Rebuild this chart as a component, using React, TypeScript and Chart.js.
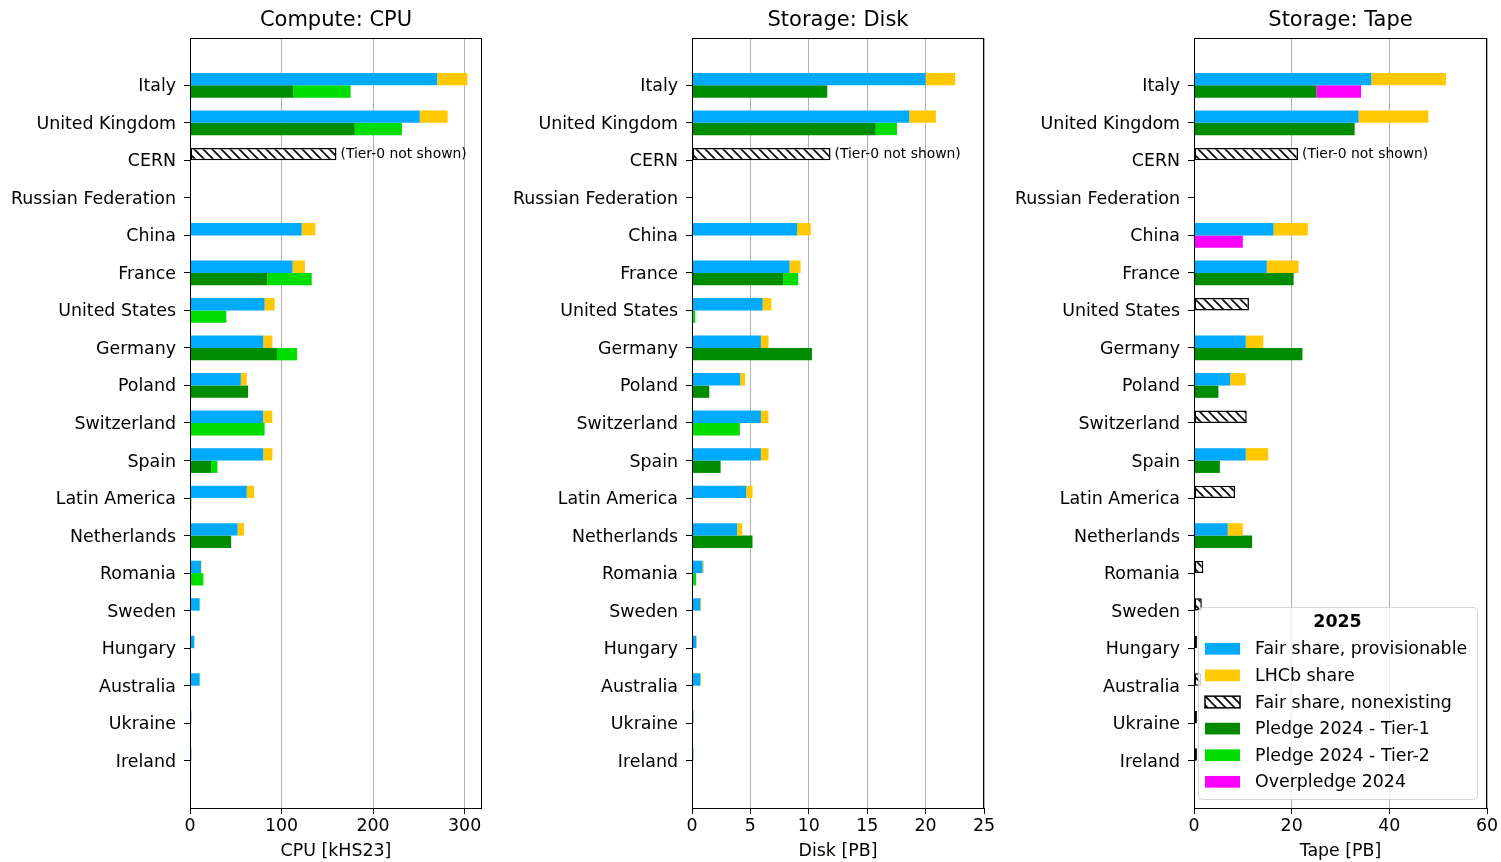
import React, { useEffect, useRef } from 'react';
import { Chart, registerables } from 'chart.js';

Chart.register(...registerables);

// ---------- data ----------
const countries = [
  'Italy', 'United Kingdom', 'CERN', 'Russian Federation', 'China', 'France',
  'United States', 'Germany', 'Poland', 'Switzerland', 'Spain', 'Latin America',
  'Netherlands', 'Romania', 'Sweden', 'Hungary', 'Australia', 'Ukraine', 'Ireland',
];

type V = number | null;

// Compute: CPU [kHS23]
const cpuFair: V[] = [270, 251, null, null, 122, 112, 81.5, 80, 55.5, 80, 80, 62, 52, 12, 10.5, 4.7, 10.5, 1.5, 1.5];
const cpuLhcb: V[] = [33, 30.5, null, null, 15, 13.5, 11, 10, 6.5, 10, 10, 8, 7, 0.6, 0.4, 0.2, 0.4, 0.1, 0.1];
const cpuNonexist: V[] = [null, null, 160, null, null, null, null, null, null, null, null, null, null, null, null, null, null, null, null];
const cpuTier1: V[] = [113, 180, null, null, null, 84.5, null, 95, 63.5, null, 23, null, 45, null, null, null, null, null, null];
const cpuTier2: V[] = [62.5, 51.5, null, null, null, 48.5, 39.7, 22, null, 81.5, 7, 1.5, null, 14.6, null, null, null, null, null];
const cpuOver: V[] = [null, null, null, null, null, null, null, null, null, null, null, null, null, null, null, null, null, null, null];
const cpuTicks = [0, 100, 200, 300];

// Storage: Disk [PB]
const diskFair: V[] = [20.0, 18.6, null, null, 9.0, 8.35, 6.05, 5.9, 4.13, 5.9, 5.9, 4.64, 3.87, 0.91, 0.71, 0.37, 0.71, 0.12, 0.12];
const diskLhcb: V[] = [2.53, 2.28, null, null, 1.17, 0.95, 0.74, 0.65, 0.42, 0.65, 0.65, 0.54, 0.43, 0.09, 0.08, 0.04, 0.07, 0.01, 0.01];
const diskNonexist: V[] = [null, null, 11.86, null, null, null, null, null, null, null, null, null, null, null, null, null, null, null, null];
const diskTier1: V[] = [11.58, 15.73, null, null, null, 7.8, null, 10.27, 1.48, null, 2.45, null, 5.18, null, null, null, null, null, null];
const diskTier2: V[] = [null, 1.82, null, null, null, 1.3, 0.28, null, null, 4.1, null, null, null, 0.35, null, null, null, null, null];
const diskOver: V[] = [null, null, null, null, null, null, null, null, null, null, null, null, null, null, null, null, null, null, null];
const diskTicks = [0, 5, 10, 15, 20, 25];

// Storage: Tape [PB]
const tapeFair: V[] = [36.3, 33.7, null, null, 16.3, 14.9, null, 10.6, 7.4, null, 10.6, null, 6.9, null, null, null, null, null, null];
const tapeLhcb: V[] = [15.3, 14.3, null, null, 7.0, 6.5, null, 3.6, 3.2, null, 4.6, null, 3.1, null, null, null, null, null, null];
const tapeNonexist: V[] = [null, null, 21.3, null, null, null, 11.25, null, null, 10.8, null, 8.4, null, 1.9, 1.6, 0.6, 1.5, 0.6, 0.6];
const tapeTier1: V[] = [25.1, 32.9, null, null, null, 20.4, null, 22.2, 5.0, null, 5.3, null, 11.9, null, null, null, null, null, null];
const tapeTier2: V[] = [null, null, null, null, null, null, null, null, null, null, null, null, null, null, null, null, null, null, null];
const tapeOver: V[] = [9.1, null, null, null, 10.0, null, null, null, null, null, null, null, null, null, null, null, null, null, null];
const tapeTicks = [0, 20, 40, 60];

const seriesLabels = [
  'Fair share, provisionable', 'LHCb share', 'Fair share, nonexisting',
  'Pledge 2024 - Tier-1', 'Pledge 2024 - Tier-2', 'Overpledge 2024',
];
const legendTitle = '2025';
const tier0Note = '(Tier-0 not shown)';

// ---------- styles ----------
const FONT = '"DejaVu Sans", sans-serif';
const FS = 17.4;
const C_FAIR = '#00aaff';
const C_LHCB = '#ffc800';
const C_T1 = '#008c00';
const C_T2 = '#00dd00';
const C_OVER = '#ff00ff';

interface Panel {
  title: string; axis: string; max: number; ticks: number[];
  fair: V[]; lhcb: V[]; nonex: V[]; t1: V[]; t2: V[]; over: V[];
  left: number; w: number; padRight: number; legend: boolean;
}

const panels: Panel[] = [
  { title: 'Compute: CPU', axis: 'CPU [kHS23]', max: 319, ticks: cpuTicks, fair: cpuFair, lhcb: cpuLhcb, nonex: cpuNonexist, t1: cpuTier1, t2: cpuTier2, over: cpuOver, left: 0, w: 502, padRight: 20, legend: false },
  { title: 'Storage: Disk', axis: 'Disk [PB]', max: 25, ticks: diskTicks, fair: diskFair, lhcb: diskLhcb, nonex: diskNonexist, t1: diskTier1, t2: diskTier2, over: diskOver, left: 502, w: 502, padRight: 20, legend: false },
  { title: 'Storage: Tape', axis: 'Tape [PB]', max: 60, ticks: tapeTicks, fair: tapeFair, lhcb: tapeLhcb, nonex: tapeNonexist, t1: tapeTier1, t2: tapeTier2, over: tapeOver, left: 1004, w: 497, padRight: 14, legend: true },
];

function makeHatch(): CanvasPattern {
  const s = 9;
  const c = document.createElement('canvas');
  c.width = s; c.height = s;
  const g = c.getContext('2d')!;
  g.fillStyle = '#ffffff';
  g.fillRect(0, 0, s, s);
  g.strokeStyle = '#000000';
  g.lineWidth = 1.6;
  g.beginPath();
  g.moveTo(-1, -1); g.lineTo(s + 1, s + 1);
  g.moveTo(-2, s - 2); g.lineTo(2, s + 2);
  g.moveTo(s - 2, -2); g.lineTo(s + 2, 2);
  g.stroke();
  return g.createPattern(c, 'repeat')!;
}

function series(vals: V[]) {
  const out: { x: number; y: number }[] = [];
  vals.forEach((v, i) => { if (v !== null) out.push({ x: v, y: i }); });
  return out;
}

function roundRect(ctx: CanvasRenderingContext2D, x: number, y: number, w: number, h: number, r: number) {
  ctx.beginPath();
  ctx.moveTo(x + r, y);
  ctx.lineTo(x + w - r, y);
  ctx.arcTo(x + w, y, x + w, y + r, r);
  ctx.lineTo(x + w, y + h - r);
  ctx.arcTo(x + w, y + h, x + w - r, y + h, r);
  ctx.lineTo(x + r, y + h);
  ctx.arcTo(x, y + h, x, y + h - r, r);
  ctx.lineTo(x, y + r);
  ctx.arcTo(x, y, x + r, y, r);
  ctx.closePath();
}

function makeDecor(p: Panel, hatch: CanvasPattern) {
  return {
    id: 'decor',
    afterDatasetsDraw(chart: any) {
      const { ctx, chartArea: a } = chart;
      ctx.save();
      // frame
      ctx.strokeStyle = '#000';
      ctx.lineWidth = 1;
      ctx.strokeRect(a.left + 0.5, a.top + 0.5, a.right - a.left - 1, a.bottom - a.top);
      // title
      ctx.fillStyle = '#000';
      ctx.font = `21px ${FONT}`;
      ctx.textAlign = 'center';
      ctx.textBaseline = 'middle';
      ctx.fillText(p.title, (a.left + a.right) / 2, 21);
      // tier-0 note next to the CERN bar
      const cernIdx = countries.indexOf('CERN');
      const ds = chart.data.datasets[2];
      const k = ds.data.findIndex((d: any) => d.y === cernIdx);
      if (k >= 0) {
        const el = chart.getDatasetMeta(2).data[k];
        ctx.font = `13.9px ${FONT}`;
        ctx.textAlign = 'left';
        ctx.fillStyle = '#000';
        ctx.fillText(tier0Note, el.x + 4, el.y);
      }
      ctx.restore();
    },
    afterDraw(chart: any) {
      if (!p.legend) return;
      const { ctx, chartArea: a } = chart;
      const w = 279, h = 192;
      const x = a.right - 10 - w, y = a.bottom - 9 - h;
      ctx.save();
      roundRect(ctx, x + 0.5, y + 0.5, w, h, 4);
      ctx.fillStyle = 'rgba(255,255,255,0.8)';
      ctx.fill();
      ctx.strokeStyle = 'rgba(204,204,204,0.8)';
      ctx.lineWidth = 1;
      ctx.stroke();
      ctx.fillStyle = '#000';
      ctx.font = `bold ${FS}px ${FONT}`;
      ctx.textAlign = 'center';
      ctx.textBaseline = 'middle';
      ctx.fillText(legendTitle, x + w / 2, y + 15);
      const fills: (string | CanvasPattern)[] = [C_FAIR, C_LHCB, hatch, C_T1, C_T2, C_OVER];
      ctx.font = `${FS}px ${FONT}`;
      ctx.textAlign = 'left';
      seriesLabels.forEach((lab, i) => {
        const cy = y + 41.8 + i * 26.6;
        const px = x + 7, pw = 35, ph = 11.7;
        ctx.fillStyle = fills[i];
        ctx.fillRect(px, cy - ph / 2, pw, ph);
        if (i === 2) {
          ctx.strokeStyle = '#000';
          ctx.lineWidth = 1.5;
          ctx.strokeRect(px, cy - ph / 2, pw, ph);
        }
        ctx.fillStyle = '#000';
        ctx.fillText(lab, x + 57, cy + 1);
      });
      ctx.restore();
    },
  };
}

function buildConfig(p: Panel, hatch: CanvasPattern): any {
  const datasets = [
    { label: seriesLabels[0], data: series(p.fair), backgroundColor: C_FAIR, borderWidth: 0, stack: 'a' },
    { label: seriesLabels[1], data: series(p.lhcb), backgroundColor: C_LHCB, borderWidth: 0, stack: 'a' },
    { label: seriesLabels[2], data: series(p.nonex), backgroundColor: hatch, borderColor: '#000', borderWidth: 1.5, borderSkipped: false, stack: 'a' },
    { label: seriesLabels[3], data: series(p.t1), backgroundColor: C_T1, borderWidth: 0, stack: 'b' },
    { label: seriesLabels[4], data: series(p.t2), backgroundColor: C_T2, borderWidth: 0, stack: 'b' },
    { label: seriesLabels[5], data: series(p.over), backgroundColor: C_OVER, borderWidth: 0, stack: 'b' },
  ];
  return {
    type: 'bar',
    data: { datasets },
    options: {
      indexAxis: 'y',
      responsive: false,
      maintainAspectRatio: false,
      animation: false,
      events: [],
      layout: { padding: { left: 0, right: p.padRight, top: 38, bottom: 0 } },
      datasets: { bar: { barPercentage: 1, categoryPercentage: 0.66 } },
      plugins: { legend: { display: false }, title: { display: false }, tooltip: { enabled: false } },
      scales: {
        x: {
          type: 'linear', min: 0, max: p.max, stacked: true, offset: false,
          afterBuildTicks: (s: any) => { s.ticks = p.ticks.map((v) => ({ value: v })); },
          afterFit: (s: any) => { s.height = 54; },
          grid: { offset: false, color: '#b0b0b0', lineWidth: 1, drawTicks: true, tickLength: 6, tickColor: '#000', tickWidth: 1 },
          border: { display: false },
          ticks: { font: { family: FONT, size: FS }, color: '#000', padding: 2, maxRotation: 0, autoSkip: false },
          title: { display: true, text: p.axis, font: { family: FONT, size: FS }, color: '#000', padding: { top: 0, bottom: 0 } },
        },
        y: {
          type: 'linear', reverse: true, min: -1.26, max: 19.26, stacked: true, offset: false,
          afterBuildTicks: (s: any) => { s.ticks = countries.map((_, i) => ({ value: i })); },
          afterFit: (s: any) => { s.width = 190; },
          grid: { offset: false, drawOnChartArea: false, drawTicks: true, tickLength: 6, tickColor: '#000', tickWidth: 1 },
          border: { display: false },
          ticks: {
            callback: (v: number) => countries[v] ?? '',
            font: { family: FONT, size: FS }, color: '#000', padding: 8, autoSkip: false, labelOffset: 1.5,
          },
        },
      },
    },
    plugins: [makeDecor(p, hatch)],
  };
}

export default function App() {
  const r0 = useRef<HTMLCanvasElement>(null);
  const r1 = useRef<HTMLCanvasElement>(null);
  const r2 = useRef<HTMLCanvasElement>(null);
  const refs = [r0, r1, r2];

  useEffect(() => {
    const hatch = makeHatch();
    const charts = panels.map((p, i) => new Chart(refs[i].current!, buildConfig(p, hatch)));
    return () => charts.forEach((c) => c.destroy());
  }, []);

  return (
    <div style={{ position: 'fixed', left: 0, top: 0, width: 1501, height: 862, background: '#fff' }}>
      {panels.map((p, i) => (
        <canvas
          key={i}
          ref={refs[i]}
          width={p.w}
          height={862}
          style={{ position: 'absolute', left: p.left, top: 0, width: p.w, height: 862 }}
        />
      ))}
    </div>
  );
}
